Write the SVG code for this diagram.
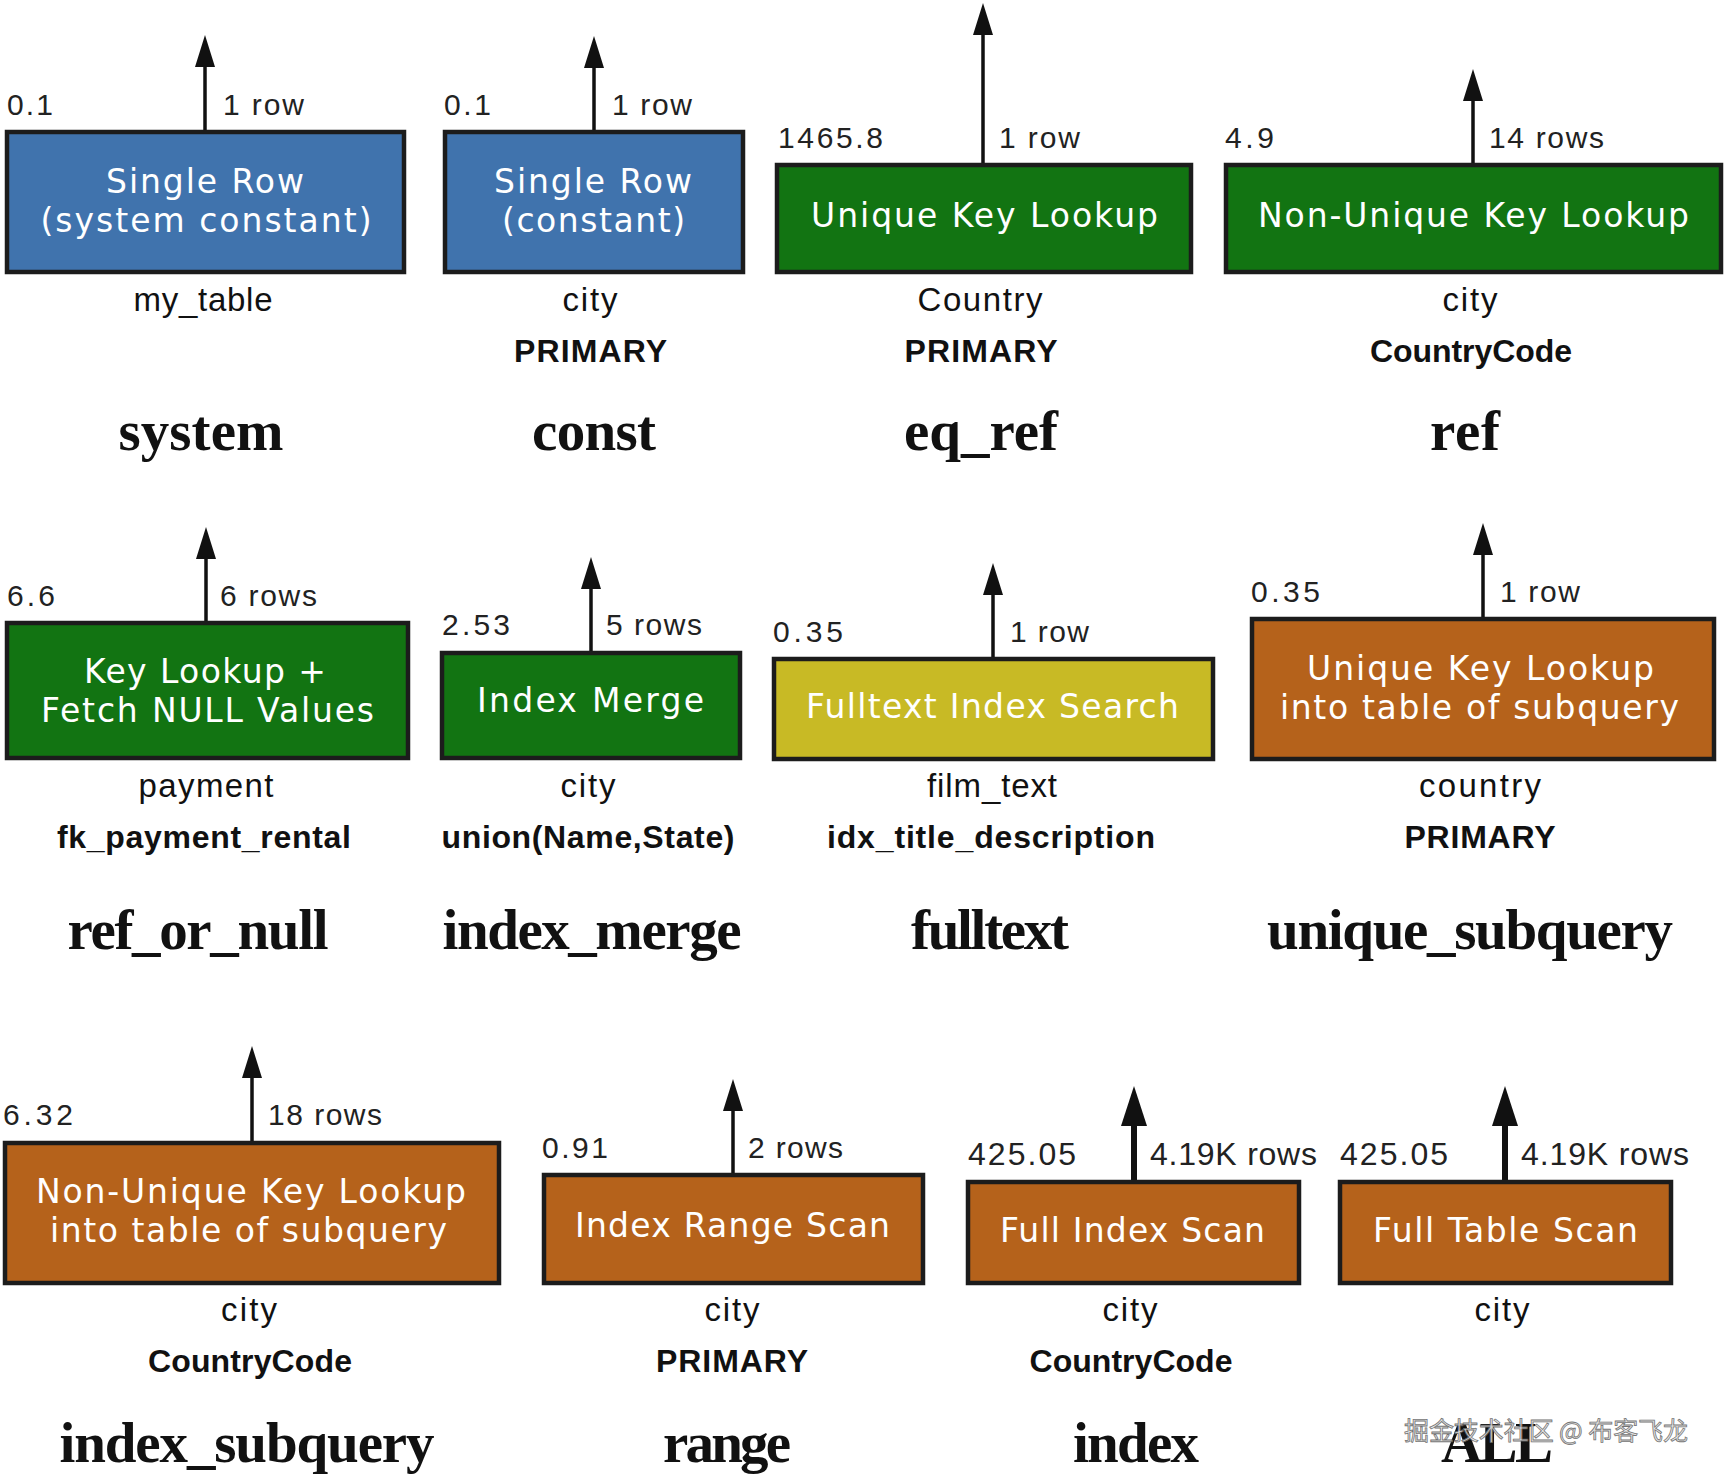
<svg xmlns="http://www.w3.org/2000/svg" width="1725" height="1481" viewBox="0 0 1725 1481">
<defs>
<marker id="ah" markerUnits="userSpaceOnUse" markerWidth="34" markerHeight="22" refX="2" refY="10" orient="auto"><path d="M0,0 L32,10 L0,20 z" fill="#111"/></marker>
<marker id="ahb" markerUnits="userSpaceOnUse" markerWidth="42" markerHeight="28" refX="2" refY="13" orient="auto"><path d="M0,0 L40,13 L0,26 z" fill="#111"/></marker>
<style>
.box{stroke:#1c1c1c;stroke-width:4.5}
.blue{fill:#4073ad}.green{fill:#127412}.yellow{fill:#c8ba25}.orange{fill:#b5621b}
.bt{font-family:"DejaVu Sans",Verdana,sans-serif;font-size:33px;fill:#fff;text-anchor:middle}
.sm{font-family:"Liberation Sans",Arial,sans-serif;font-size:30px;fill:#222}
.smb{font-family:"Liberation Sans",Arial,sans-serif;font-size:32px;fill:#222}
.l1{font-family:"Liberation Sans",Arial,sans-serif;font-size:33px;fill:#111;text-anchor:middle}
.l2{font-family:"Liberation Sans",Arial,sans-serif;font-size:32px;font-weight:bold;fill:#111;text-anchor:middle}
.big{font-family:"Liberation Serif","Times New Roman",serif;font-size:57px;font-weight:bold;fill:#111;text-anchor:middle}
.ar{stroke:#111;stroke-width:3.5;fill:none;marker-end:url(#ah)}
.arb{stroke:#111;stroke-width:6;fill:none;marker-end:url(#ahb)}
.wm{font-family:"Noto Sans CJK SC",sans-serif;font-size:25px;fill:#e6e6e6;stroke:#666;stroke-width:0.8;opacity:0.9}
</style>
</defs>
<rect width="1725" height="1481" fill="#fff"/>

<g id="connectors">
<line class="ar" x1="205" y1="132" x2="205" y2="65"/>
<line class="ar" x1="594" y1="132" x2="594" y2="66"/>
<line class="ar" x1="983" y1="165" x2="983" y2="33"/>
<line class="ar" x1="1473" y1="165" x2="1473" y2="99"/>
<line class="ar" x1="206" y1="623" x2="206" y2="557"/>
<line class="ar" x1="591" y1="653" x2="591" y2="587"/>
<line class="ar" x1="993" y1="659" x2="993" y2="593"/>
<line class="ar" x1="1483" y1="619" x2="1483" y2="553"/>
<line class="ar" x1="252" y1="1143" x2="252" y2="1076"/>
<line class="ar" x1="733" y1="1175" x2="733" y2="1109"/>
<line class="arb" x1="1134" y1="1182" x2="1134" y2="1124"/>
<line class="arb" x1="1505" y1="1182" x2="1505" y2="1124"/>
</g>

<g id="system">
<rect class="box blue" x="7" y="132" width="397" height="140"/>
<text class="bt" x="205" y="193" textLength="198">Single Row</text>
<text class="bt" x="206" y="232" textLength="331">(system constant)</text>
<text class="sm" x="7" y="115" textLength="46">0.1</text>
<text class="sm" x="223" y="115" textLength="81">1 row</text>
<text class="l1" x="203" y="311" textLength="139">my_table</text>
<text class="big" x="201" y="450" textLength="165">system</text>
</g>

<g id="const">
<rect class="box blue" x="445" y="132" width="298" height="140"/>
<text class="bt" x="593" y="193" textLength="198">Single Row</text>
<text class="bt" x="593.5" y="232" textLength="183">(constant)</text>
<text class="sm" x="444" y="115" textLength="47">0.1</text>
<text class="sm" x="612" y="115" textLength="80">1 row</text>
<text class="l1" x="590" y="311" textLength="55">city</text>
<text class="l2" x="590.5" y="362" textLength="153">PRIMARY</text>
<text class="big" x="594" y="450" textLength="124">const</text>
</g>

<g id="eq_ref">
<rect class="box green" x="777" y="165" width="414" height="107"/>
<text class="bt" x="984.5" y="227" textLength="347">Unique Key Lookup</text>
<text class="sm" x="778" y="148" textLength="105">1465.8</text>
<text class="sm" x="999" y="148" textLength="81">1 row</text>
<text class="l1" x="980" y="311" textLength="125">Country</text>
<text class="l2" x="981" y="362" textLength="153">PRIMARY</text>
<text class="big" x="981" y="450" textLength="154">eq_ref</text>
</g>

<g id="ref">
<rect class="box green" x="1226" y="165" width="495" height="107"/>
<text class="bt" x="1473.5" y="227" textLength="431">Non-Unique Key Lookup</text>
<text class="sm" x="1225" y="148" textLength="49">4.9</text>
<text class="sm" x="1489" y="148" textLength="115">14 rows</text>
<text class="l1" x="1470" y="311" textLength="55">city</text>
<text class="l2" x="1471" y="362" textLength="202">CountryCode</text>
<text class="big" x="1465" y="450" textLength="70">ref</text>
</g>

<g id="ref_or_null">
<rect class="box green" x="7" y="623" width="401" height="135"/>
<text class="bt" x="205" y="683" textLength="242">Key Lookup +</text>
<text class="bt" x="207.5" y="722" textLength="333">Fetch NULL Values</text>
<text class="sm" x="7" y="606" textLength="48">6.6</text>
<text class="sm" x="220" y="606" textLength="97">6 rows</text>
<text class="l1" x="206" y="797" textLength="135">payment</text>
<text class="l2" x="204" y="848" textLength="294">fk_payment_rental</text>
<text class="big" x="198" y="949" textLength="261">ref_or_null</text>
</g>

<g id="index_merge">
<rect class="box green" x="442" y="653" width="298" height="105"/>
<text class="bt" x="590.5" y="712" textLength="227">Index Merge</text>
<text class="sm" x="442" y="635" textLength="68">2.53</text>
<text class="sm" x="606" y="635" textLength="96">5 rows</text>
<text class="l1" x="588" y="797" textLength="55">city</text>
<text class="l2" x="588" y="848" textLength="293">union(Name,State)</text>
<text class="big" x="592" y="949" textLength="299">index_merge</text>
</g>

<g id="fulltext">
<rect class="box yellow" x="774" y="659" width="439" height="100"/>
<text class="bt" x="992.5" y="718" textLength="373">Fulltext Index Search</text>
<text class="sm" x="773" y="642" textLength="70">0.35</text>
<text class="sm" x="1010" y="642" textLength="79">1 row</text>
<text class="l1" x="992" y="797" textLength="130">film_text</text>
<text class="l2" x="991" y="848" textLength="328">idx_title_description</text>
<text class="big" x="990" y="949" textLength="158">fulltext</text>
</g>

<g id="unique_subquery">
<rect class="box orange" x="1252" y="619" width="462" height="140"/>
<text class="bt" x="1480.5" y="680" textLength="347">Unique Key Lookup</text>
<text class="bt" x="1479.5" y="719" textLength="399">into table of subquery</text>
<text class="sm" x="1251" y="602" textLength="69">0.35</text>
<text class="sm" x="1500" y="602" textLength="80">1 row</text>
<text class="l1" x="1480" y="797" textLength="122">country</text>
<text class="l2" x="1480" y="848" textLength="151">PRIMARY</text>
<text class="big" x="1470" y="949" textLength="406">unique_subquery</text>
</g>

<g id="index_subquery">
<rect class="box orange" x="5" y="1143" width="494" height="140"/>
<text class="bt" x="251" y="1203" textLength="430">Non-Unique Key Lookup</text>
<text class="bt" x="248.5" y="1242" textLength="397">into table of subquery</text>
<text class="sm" x="3" y="1125" textLength="70">6.32</text>
<text class="sm" x="268" y="1125" textLength="114">18 rows</text>
<text class="l1" x="249" y="1321" textLength="56">city</text>
<text class="l2" x="250" y="1372" textLength="204">CountryCode</text>
<text class="big" x="247" y="1462" textLength="375">index_subquery</text>
</g>

<g id="range">
<rect class="box orange" x="544" y="1175" width="379" height="108"/>
<text class="bt" x="732.5" y="1237" textLength="315">Index Range Scan</text>
<text class="sm" x="542" y="1158" textLength="66">0.91</text>
<text class="sm" x="748" y="1158" textLength="95">2 rows</text>
<text class="l1" x="732" y="1321" textLength="55">city</text>
<text class="l2" x="732" y="1372" textLength="152">PRIMARY</text>
<text class="big" x="727" y="1462" textLength="128">range</text>
</g>

<g id="index">
<rect class="box orange" x="968" y="1182" width="331" height="101"/>
<text class="bt" x="1132.5" y="1242" textLength="265">Full Index Scan</text>
<text class="smb" x="968" y="1165" textLength="108">425.05</text>
<text class="smb" x="1150" y="1165" textLength="167">4.19K rows</text>
<text class="l1" x="1130" y="1321" textLength="55">city</text>
<text class="l2" x="1131" y="1372" textLength="203">CountryCode</text>
<text class="big" x="1136" y="1462" textLength="126">index</text>
</g>

<g id="ALL">
<rect class="box orange" x="1340" y="1182" width="331" height="101"/>
<text class="bt" x="1505.5" y="1242" textLength="265">Full Table Scan</text>
<text class="smb" x="1340" y="1165" textLength="108">425.05</text>
<text class="smb" x="1521" y="1165" textLength="168">4.19K rows</text>
<text class="l1" x="1502" y="1321" textLength="55">city</text>
<text class="big" x="1497" y="1462" textLength="112">ALL</text>
</g>

<text class="wm" x="1404" y="1440" textLength="284">掘金技术社区 @ 布客飞龙</text>
</svg>
